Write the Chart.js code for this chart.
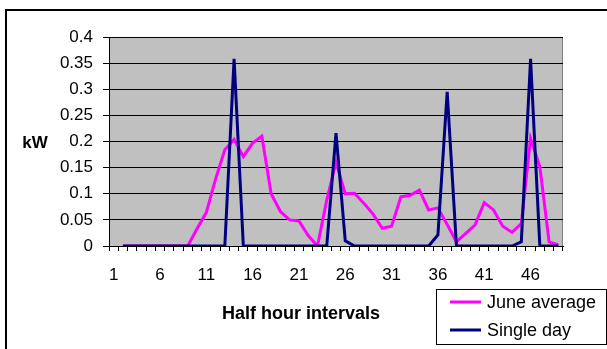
<!DOCTYPE html>
<html>
<head>
<meta charset="utf-8">
<script src="https://cdn.jsdelivr.net/npm/chart.js@4"></script>
<style>
  html, body { margin: 0; padding: 0; background: #fff; }
  #wrap { width: 607px; height: 349px; position: relative; }
</style>
</head>
<body>
<div id="wrap"><canvas id="kwChart" width="607" height="349"></canvas></div>
<script>
// Half hour interval labels (1..49), only every 5th is printed
const intervals = [];
for (let i = 1; i <= 49; i++) intervals.push(String(i));

const juneAverage = [null,
  0, 0, 0, 0, 0, 0, 0, 0,
  0.033, 0.064, 0.128, 0.184, 0.204, 0.171, 0.197, 0.21,
  0.10, 0.066, 0.05, 0.048, 0.02, 0, 0.088, 0.16,
  0.10, 0.101, 0.082, 0.061, 0.034, 0.038, 0.094, 0.097,
  0.107, 0.069, 0.073, 0.041, 0.008, 0.024, 0.040, 0.083,
  0.069, 0.038, 0.026, 0.043, 0.206, 0.152, 0.008, 0.002];

const singleDay = [null,
  0, 0, 0, 0, 0, 0, 0, 0,
  0, 0, 0, 0, 0.358, 0, 0, 0,
  0, 0, 0, 0, 0, 0, 0, 0.216,
  0.01, 0, 0, 0, 0, 0, 0, 0,
  0, 0, 0.021, 0.295, 0, 0, 0, 0,
  0, 0, 0, 0.008, 0.358, 0, 0, 0];

const yTicks = [0, 0.05, 0.1, 0.15, 0.2, 0.25, 0.3, 0.35, 0.4];

const FONT = "'Liberation Sans', Arial, sans-serif";

// plot background, outer frame, titles and legend (Excel look)
const excelFrame = {
  id: 'excelFrame',
  beforeDraw(chart) {
    const ctx = chart.ctx;
    const a = chart.chartArea;
    ctx.save();
    ctx.fillStyle = '#fff';
    ctx.fillRect(0, 0, chart.width, chart.height);
    ctx.fillStyle = '#000';
    ctx.fillRect(5, 9, 2, chart.height);
    ctx.fillRect(5, 9, chart.width, 2);
    ctx.fillStyle = '#c0c0c0';
    ctx.fillRect(a.left, a.top, a.right - a.left, a.bottom - a.top);
    ctx.strokeStyle = '#808080';
    ctx.lineWidth = 1;
    ctx.strokeRect(a.left + 0.5, a.top + 0.5, a.right - a.left - 1, a.bottom - a.top);
    ctx.restore();
  },
  afterDraw(chart) {
    const ctx = chart.ctx;
    ctx.save();
    ctx.fillStyle = '#000';
    ctx.textBaseline = 'middle';
    ctx.textAlign = 'center';
    ctx.font = 'bold 17px ' + FONT;
    ctx.fillText('kW', 35, 143);
    ctx.font = 'bold 18px ' + FONT;
    ctx.fillText('Half hour intervals', 301, 314);

    // legend
    ctx.fillStyle = '#fff';
    ctx.fillRect(436, 289, 170, 55);
    ctx.strokeStyle = '#000';
    ctx.lineWidth = 1;
    ctx.strokeRect(436.5, 289.5, 170, 55);
    ctx.textAlign = 'left';
    ctx.font = '18px ' + FONT;
    const rows = [302, 330];
    chart.data.datasets.forEach(function(ds, i) {
      ctx.strokeStyle = ds.borderColor;
      ctx.lineWidth = 3;
      ctx.beginPath();
      ctx.moveTo(450, rows[i]);
      ctx.lineTo(481, rows[i]);
      ctx.stroke();
      ctx.fillStyle = '#000';
      ctx.fillText(ds.label, 487, rows[i] + 1);
    });
    ctx.restore();
  }
};

const ctx = document.getElementById('kwChart').getContext('2d');
new Chart(ctx, {
  type: 'line',
  data: {
    labels: intervals,
    datasets: [{
      label: 'June average',
      data: juneAverage,
      borderColor: '#ff00ff',
      borderWidth: 3,
      pointRadius: 0,
      tension: 0,
      order: 1
    }, {
      label: 'Single day',
      data: singleDay,
      borderColor: '#000080',
      borderWidth: 3,
      pointRadius: 0,
      tension: 0,
      order: 0
    }]
  },
  options: {
    responsive: false,
    animation: false,
    layout: { padding: { top: 37, right: 44, left: 0, bottom: 0 } },
    plugins: {
      legend: { display: false },
      tooltip: { enabled: false }
    },
    scales: {
      x: {
        offset: true,
        afterFit(scale) { scale.height = 103; },
        grid: {
          offset: true,
          drawOnChartArea: false,
          drawTicks: true,
          tickLength: 5,
          color: '#000'
        },
        border: { display: true, color: '#000', width: 1 },
        ticks: {
          autoSkip: false,
          maxRotation: 0,
          padding: 14,
          color: '#000',
          font: { family: FONT, size: 17 },
          callback: function(v, i) { return (i % 5 === 0) ? intervals[i] : ''; }
        }
      },
      y: {
        min: 0,
        max: 0.4,
        afterFit(scale) { scale.width = 109; },
        afterBuildTicks(scale) { scale.ticks = yTicks.map(v => ({ value: v })); },
        grid: {
          color: '#000',
          tickLength: 6,
          drawTicks: true
        },
        border: { display: true, color: '#000', width: 1 },
        ticks: {
          padding: 10,
          color: '#000',
          font: { family: FONT, size: 17 },
          callback: v => String(v)
        }
      }
    }
  },
  plugins: [excelFrame]
});
</script>
</body>
</html>
